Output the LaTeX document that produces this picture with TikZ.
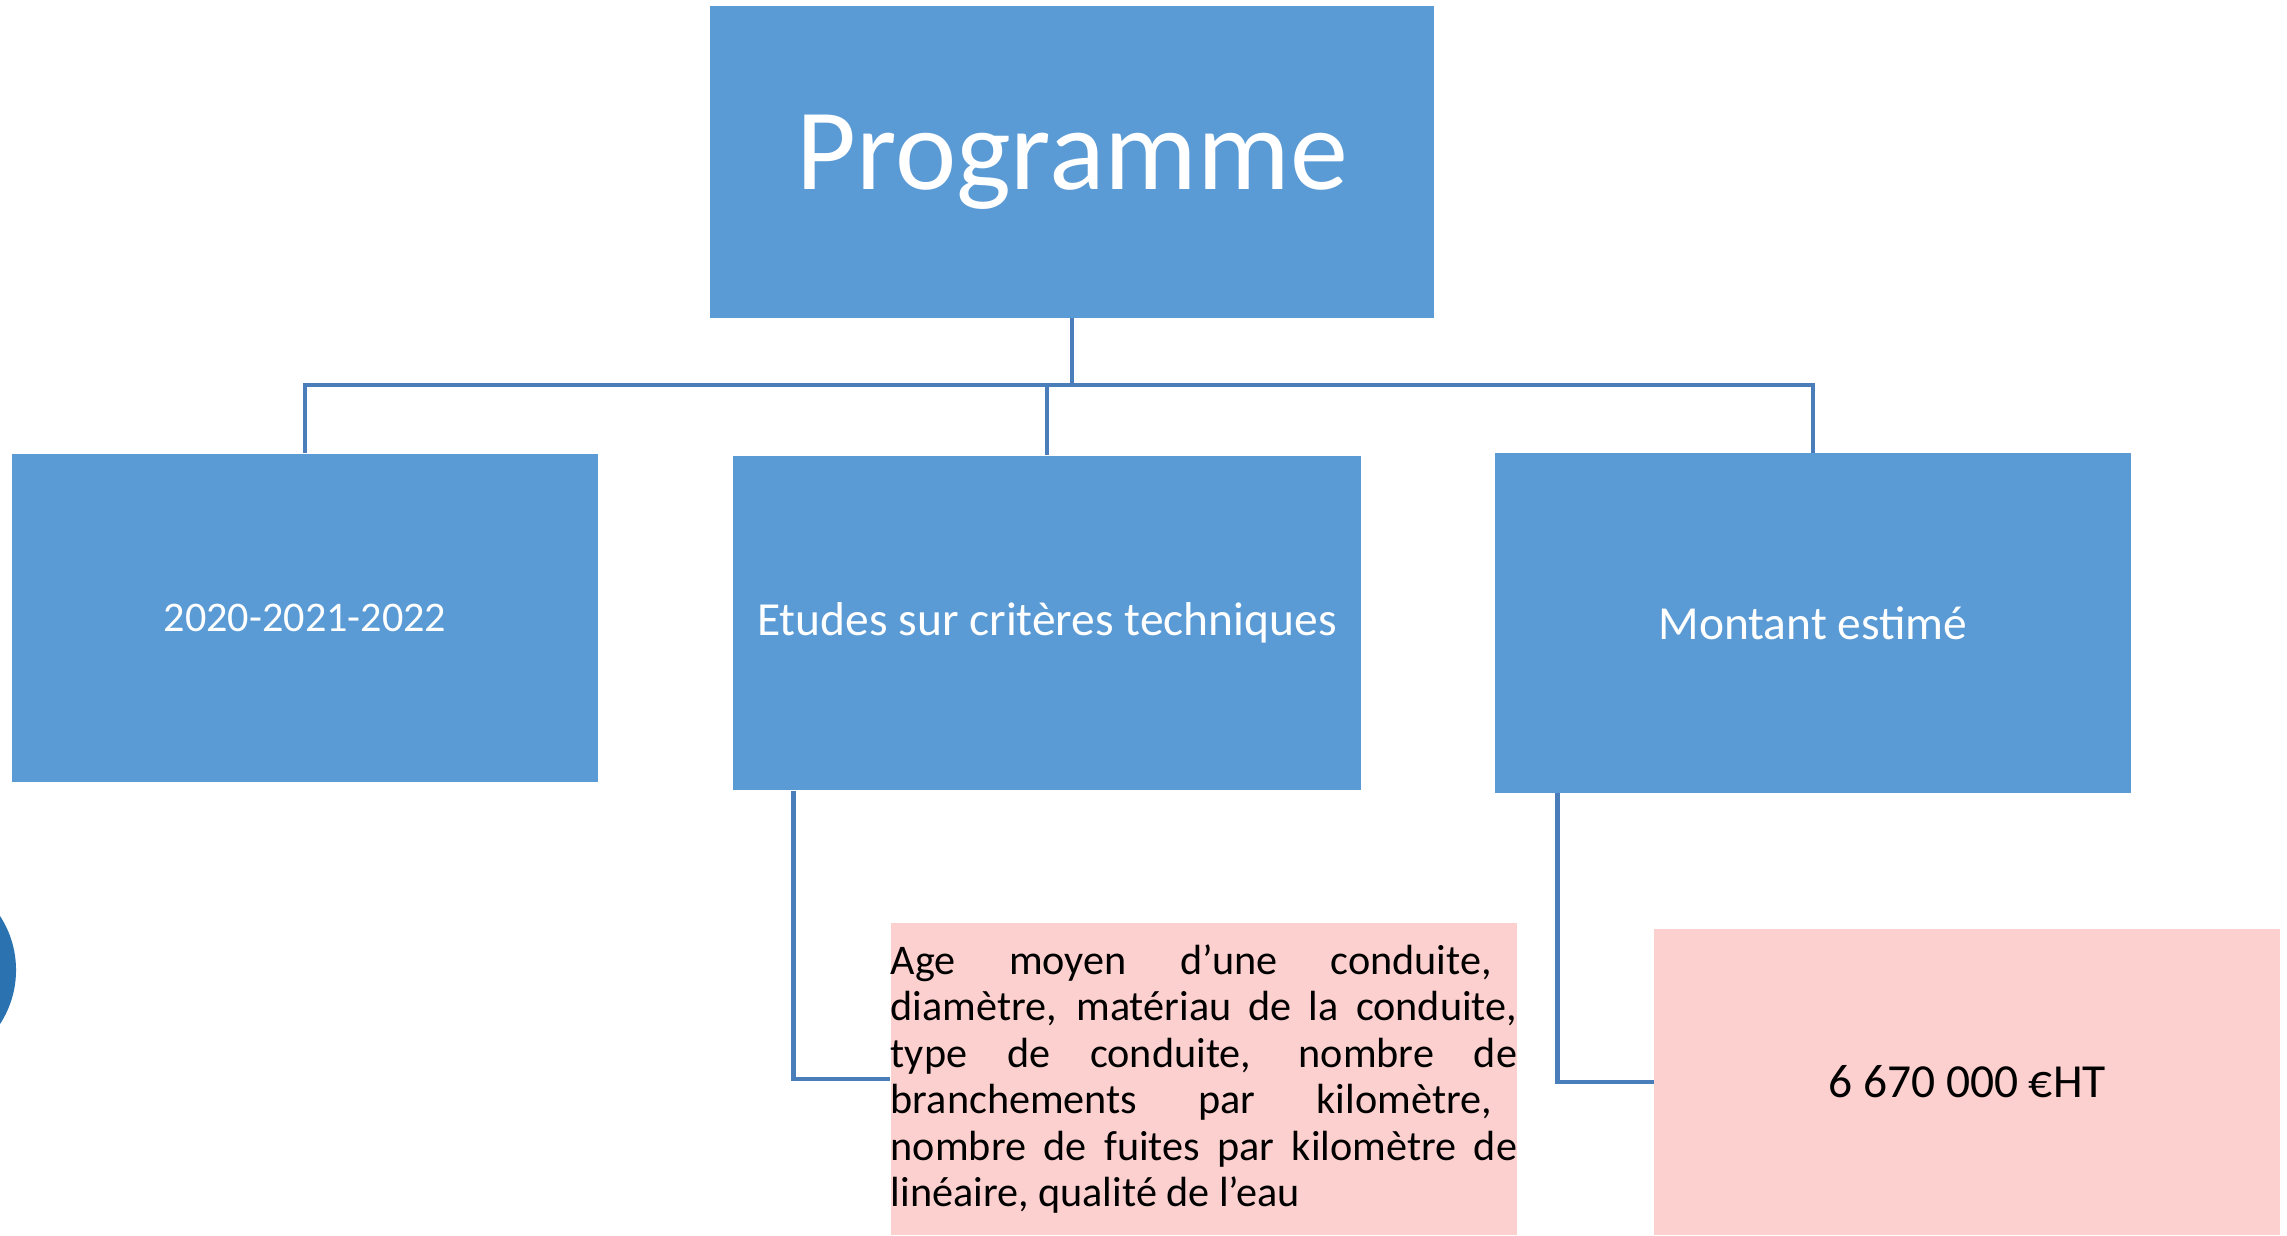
\documentclass[tikz,border=0pt]{standalone}
\usepackage{fontspec}
\setmainfont{Carlito}
\usepackage{tikz}
\usetikzlibrary{positioning}
\definecolor{boxblue}{HTML}{5B9BD5}
\definecolor{linkblue}{HTML}{4A7EBB}
\definecolor{dotblue}{HTML}{2A72B0}
\definecolor{pink}{HTML}{FCD0CE}
\tikzset{
  head/.style={rectangle, fill=boxblue, text=white, inner sep=0pt, align=center},
  leaf/.style={rectangle, fill=pink, text=black, inner sep=0pt},
  link/.style={draw=linkblue, line width=1.3pt}
}

\begin{document}
\begin{tikzpicture}[x=0.01cm, y=-0.01cm]

  \useasboundingbox (0,0) rectangle (2287,1235);
  \begin{scope}
    \clip (0,0) rectangle (2287,1235);
    \fill[dotblue] (-83,970) circle (0.99cm);
  \end{scope}

  \node[head, minimum width=7.24cm, minimum height=3.11cm,
    font=\fontsize{33}{40}\selectfont] (prog) at (1072,162) {Programme};

  \node[head, minimum width=5.86cm, minimum height=3.28cm,
    font=\fontsize{12}{14}\selectfont] (years) at (305,618) {2020-2021-2022};
  \node[head, minimum width=6.27cm, minimum height=3.34cm,
    font=\fontsize{13.5}{16}\selectfont] (etudes) at (1047,623)
    {Etudes sur critères techniques};
  \node[head, minimum width=6.35cm, minimum height=3.39cm,
    font=\fontsize{13.5}{16}\selectfont] (montant) at (1813,623) {Montant estimé};

  \node[leaf, minimum width=6.26cm, minimum height=3.12cm] (crit) at (1204,1079)
    {\parbox{6.26cm}{\fontsize{12}{13.2}\selectfont\hyphenpenalty=10000
      Age moyen d’une conduite,\hspace*{0.6em}\linebreak
      diamètre, matériau de la conduite,\linebreak
      type de conduite, nombre de\linebreak
      branchements par kilomètre,\hspace*{0.6em}\linebreak
      nombre de fuites par kilomètre de\linebreak
      linéaire, qualité de l’eau}};
  \node[leaf, minimum width=6.25cm, minimum height=3.06cm,
    font=\fontsize{13.5}{16}\selectfont] (amount) at (1967,1082) {6 670 000 €HT};

  \coordinate (bus) at (1072,385);
  \coordinate (e1) at ([xshift=0.61cm]etudes.south west);
  \coordinate (m1) at ([xshift=0.63cm]montant.south west);

  \draw[link] (prog.south) -- (prog.south |- bus);
  \draw[link] (years.north) |- (montant.north |- bus) -- (montant.north);
  \draw[link] (etudes.north) -- (etudes.north |- bus);

  \draw[link] (e1) |- (crit.west);
  \draw[link] (m1) |- (amount.west);

\end{tikzpicture}
\end{document}
